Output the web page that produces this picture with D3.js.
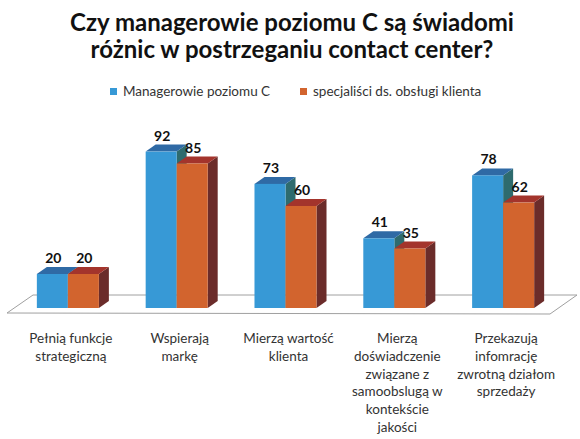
<!DOCTYPE html>
<html>
<head>
<meta charset="utf-8">
<script src="https://cdn.jsdelivr.net/npm/d3@7"></script>
<style>
	body { margin: 0; background: #fff; }
	svg { display: block; }
	text { font-family: Lato, "Open Sans", sans-serif; fill: #222; }
</style>
</head>
<body>
<div id="chart"></div>
<script>
// Categories (line breaks as in the original labels)
var categories = [
	"Pełnią funkcje\nstrategiczną",
	"Wspierają\nmarkę",
	"Mierzą wartość\nklienta",
	"Mierzą\ndoświadczenie\nzwiązane z\nsamoobslugą w\nkontekście\njakości",
	"Przekazują\ninfomrację\nzwrotną działom\nsprzedaży"
];
var seriesNames = ["Managerowie poziomu C", "specjaliści ds. obsługi klienta"];
var managerValues = [20, 92, 73, 41, 78];
var specialistValues = [20, 85, 60, 35, 62];
var titleLines = ["Czy managerowie poziomu C są świadomi", "różnic w postrzeganiu contact center?"];

var width = 580, height = 439;
var baseY = 308;      // front bottom of the bars
var depthX = 10, depthY = 7;   // bar depth offset

// colours: front, top, side
var palette = [
	{front: "#3799d6", top: "#2f6aa5", side: "#2e6b6e"},
	{front: "#d2642e", top: "#a3342c", side: "#6b2c2a"}
];

var svg = d3.select("#chart").append("svg")
	.attr("width", width)
	.attr("height", height);

// Title
svg.append("g").selectAll("text")
	.data(titleLines)
	.join("text")
	.attr("x", 292)
	.attr("y", (d, i) => 31 + i * 27)
	.attr("text-anchor", "middle")
	.style("font-size", "24px")
	.style("font-weight", "bold")
	.style("fill", "#111")
	.text(d => d);

// Scales
var x = d3.scaleBand().domain(categories).range([14, 557]).paddingInner(0.43).paddingOuter(0.21);
var xs = d3.scaleBand().domain([0, 1]).range([0, x.bandwidth()]);
var y = d3.scaleLinear().domain([0, 100]).range([baseY, baseY - 170]);

// Floor
var floorFront = 313, floorBack = 295;
var floor = [
	[x.range()[0] - 7, floorFront],
	[x.range()[1] - 7, floorFront + 1],
	[x.range()[1] + 20, floorBack],
	[x.range()[0] + 19, floorBack]
];
svg.append("path")
	.attr("d", d3.line()(floor) + "Z")
	.attr("fill", "#fff")
	.attr("stroke", "#a0a0a0")
	.attr("stroke-width", 1);

// Bars
var series = [managerValues, specialistValues];
var groups = svg.append("g").selectAll("g")
	.data(categories)
	.join("g")
	.attr("transform", d => "translate(" + x(d) + ",0)");

groups.each(function(cat, ci) {
	var g = d3.select(this);
	series.forEach(function(vals, si) {
		var v = vals[ci];
		var x0 = xs(si), x1 = xs(si) + xs.bandwidth();
		var yt = y(v), yb = y(0);
		var c = palette[si];
		// side
		g.append("path")
			.attr("d", d3.line()([[x1, yb], [x1 + depthX, yb - depthY], [x1 + depthX, yt - depthY], [x1, yt]]) + "Z")
			.attr("fill", c.side);
		// top
		g.append("path")
			.attr("d", d3.line()([[x0, yt], [x0 + depthX, yt - depthY], [x1 + depthX, yt - depthY], [x1, yt]]) + "Z")
			.attr("fill", c.top);
		// front
		g.append("rect")
			.attr("x", x0)
			.attr("y", yt)
			.attr("width", xs.bandwidth())
			.attr("height", yb - yt)
			.attr("fill", c.front);
	});
	series.forEach(function(vals, si) {
		g.append("text")
			.attr("x", xs(si) + xs.bandwidth() / 2 + 1)
			.attr("y", y(vals[ci]) - depthY - 4)
			.attr("text-anchor", "middle")
			.style("font-size", "14px")
			.style("font-weight", "bold")
			.style("fill", "#111")
			.text(vals[ci]);
	});
});

// Category labels
groups.append("text")
	.attr("x", x.bandwidth() / 2 + 3)
	.attr("y", 343)
	.attr("text-anchor", "middle")
	.style("font-size", "13.5px")
	.style("fill", "#333")
	.each(function(d) {
		var t = d3.select(this);
		d.split("\n").forEach(function(line, i) {
			t.append("tspan")
				.attr("x", x.bandwidth() / 2 + 3)
				.attr("dy", i === 0 ? 0 : 17.8)
				.text(line);
		});
	});

// Legend
var legendX = [110, 300];
var legend = svg.append("g").selectAll("g")
	.data(seriesNames)
	.join("g")
	.attr("transform", (d, i) => "translate(" + legendX[i] + ",88)");
legend.append("rect")
	.attr("width", 7)
	.attr("height", 7)
	.attr("fill", (d, i) => palette[i].front);
legend.append("text")
	.attr("x", 13)
	.attr("y", 8)
	.style("font-size", "13.5px")
	.style("fill", "#333")
	.text(d => d);
</script>
</body>
</html>
